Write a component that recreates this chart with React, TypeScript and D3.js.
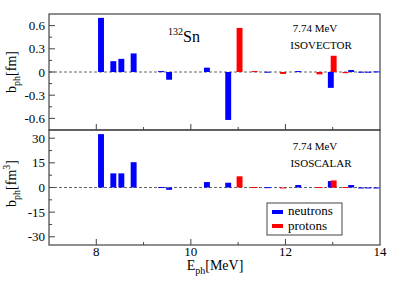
import * as d3 from 'd3';
import * as React from 'react';

// neutron transitions: energy [MeV], isovector b_ph [fm], isoscalar b_ph [fm^3]
const neutronE = [8.1, 8.36, 8.53, 8.79, 9.37, 9.54, 10.34, 10.79, 11.62, 12.27, 12.96, 13.39, 13.6, 13.75, 13.92];
const neutronIV = [0.7, 0.14, 0.17, 0.24, 0.012, -0.1, 0.056, -0.62, 0.004, 0.012, -0.205, 0.025, 0.004, 0.004, 0.008];
const neutronIS = [32.5, 8.6, 8.6, 15.4, 0.3, -1.4, 3.3, 2.9, 0.2, 1.5, 3.9, 1.5, -0.5, -0.3, -0.5];

// proton transitions
const protonE = [11.03, 11.35, 11.95, 12.72, 13.02, 13.27];
const protonIV = [0.57, 0.012, -0.025, -0.03, 0.21, -0.015];
const protonIS = [6.8, 0.3, -0.3, 0.3, 4.3, 0.3];

const xTicks = [8, 10, 12, 14];
const ivTicks = [0.6, 0.3, 0, -0.3, -0.6];
const isTicks = [30, 15, 0, -15, -30];

const W = 409;
const H = 289;
const left = 49;
const right = 380;
const top = 14;
const mid = 130;
const bottom = 245;
const barW = 0.125;
const frame = '#444';
const font = "'Liberation Serif', 'Times New Roman', serif";

const x = d3.scaleLinear().domain([7, 14]).range([left, right]);
const yIV = d3.scaleLinear().domain([-0.75, 0.75]).range([mid, top]);
const yIS = d3.scaleLinear().domain([-35, 35]).range([bottom, mid]);

const fmtTick = (v: number) => (v === 0 ? '0' : String(v));

function Bars({ es, vs, y, color }: { es: number[]; vs: number[]; y: d3.ScaleLinear<number, number>; color: string }) {
  return (
    <g fill={color}>
      {es.map((e, i) => {
        const x0 = x(e - barW / 2);
        const y0 = Math.min(y(0), y(vs[i]));
        const h = Math.max(Math.abs(y(vs[i]) - y(0)), 1);
        return <rect key={i} x={x0} y={y0} width={x(e + barW / 2) - x0} height={h} />;
      })}
    </g>
  );
}

function Panel({ y, ticks, y0, y1 }: { y: d3.ScaleLinear<number, number>; ticks: number[]; y0: number; y1: number }) {
  const step = ticks[0] - ticks[1];
  const minor = d3.range(ticks[ticks.length - 1] - step / 2, ticks[0] + step, step);
  return (
    <g>
      <line x1={left} x2={right} y1={y(0)} y2={y(0)} stroke="#666" strokeDasharray="3,2" strokeWidth={1} />
      {ticks.map((t) => (
        <g key={t}>
          <line x1={left} x2={left + 6} y1={y(t)} y2={y(t)} stroke={frame} />
          <text x={left - 4} y={y(t)} dy="0.35em" textAnchor="end" fontSize={13} fontFamily={font}>
            {fmtTick(t)}
          </text>
        </g>
      ))}
      {minor
        .filter((t) => y(t) > y0 + 1 && y(t) < y1 - 1)
        .map((t) => (
          <line key={t} x1={left} x2={left + 3} y1={y(t)} y2={y(t)} stroke={frame} />
        ))}
      {d3.range(8, 14, 1).map((t) => (
        <line key={t} x1={x(t)} x2={x(t)} y1={y1} y2={y1 - (t % 2 === 0 ? 6 : 3)} stroke={frame} />
      ))}
    </g>
  );
}

export default function App() {
  return (
    <svg width={W} height={H} style={{ position: 'absolute', left: 0, top: 0 }}>
      <rect width={W} height={H} fill="#fff" />
      <Panel y={yIV} ticks={ivTicks} y0={top} y1={mid} />
      <Panel y={yIS} ticks={isTicks} y0={mid} y1={bottom} />
      <Bars es={neutronE} vs={neutronIV} y={yIV} color="#0000ff" />
      <Bars es={protonE} vs={protonIV} y={yIV} color="#ff0000" />
      <Bars es={neutronE} vs={neutronIS} y={yIS} color="#0000ff" />
      <Bars es={protonE} vs={protonIS} y={yIS} color="#ff0000" />
      <rect x={left} y={top} width={right - left} height={mid - top} fill="none" stroke={frame} strokeWidth={1.2} />
      <rect x={left} y={mid} width={right - left} height={bottom - mid} fill="none" stroke={frame} strokeWidth={1.2} />

      {xTicks.map((t) => (
        <text key={t} x={x(t)} y={256} textAnchor="middle" fontSize={13} fontFamily={font}>
          {t}
        </text>
      ))}

      <text x={168} y={42} fontFamily={font}>
        <tspan fontSize={10} dy={-7}>132</tspan>
        <tspan fontSize={16} dy={7}>Sn</tspan>
      </text>
      <text x={315} y={32} textAnchor="middle" fontSize={11} fontFamily={font}>7.74 MeV</text>
      <text x={321} y={49} textAnchor="middle" fontSize={11} fontFamily={font}>ISOVECTOR</text>
      <text x={315} y={150} textAnchor="middle" fontSize={11} fontFamily={font}>7.74 MeV</text>
      <text x={321} y={167} textAnchor="middle" fontSize={11} fontFamily={font}>ISOSCALAR</text>

      <text x={215} y={270} textAnchor="middle" fontSize={14} fontFamily={font}>
        E<tspan fontSize={10} dy={4}>ph</tspan>
        <tspan dy={-4}>[MeV]</tspan>
      </text>
      <text transform={`translate(16,${yIV(0)}) rotate(-90)`} textAnchor="middle" fontSize={14} fontFamily={font}>
        b<tspan fontSize={10} dy={4}>ph</tspan>
        <tspan dy={-4}>[fm]</tspan>
      </text>
      <text transform={`translate(16,${yIS(0) - 4}) rotate(-90)`} textAnchor="middle" fontSize={14} fontFamily={font}>
        b<tspan fontSize={10} dy={4}>ph</tspan>
        <tspan dy={-4}>[fm</tspan>
        <tspan fontSize={10} dy={-6}>3</tspan>
        <tspan dy={6}>]</tspan>
      </text>

      <g>
        <rect x={267} y={203} width={75} height={32} fill="#fff" stroke={frame} strokeWidth={1} />
        <rect x={272} y={210} width={11} height={4} fill="#0000ff" />
        <rect x={272} y={224} width={11} height={4} fill="#ff0000" />
        <text x={288} y={215} fontSize={13} fontFamily={font}>neutrons</text>
        <text x={288} y={229.5} fontSize={13} fontFamily={font}>protons</text>
      </g>
    </svg>
  );
}
